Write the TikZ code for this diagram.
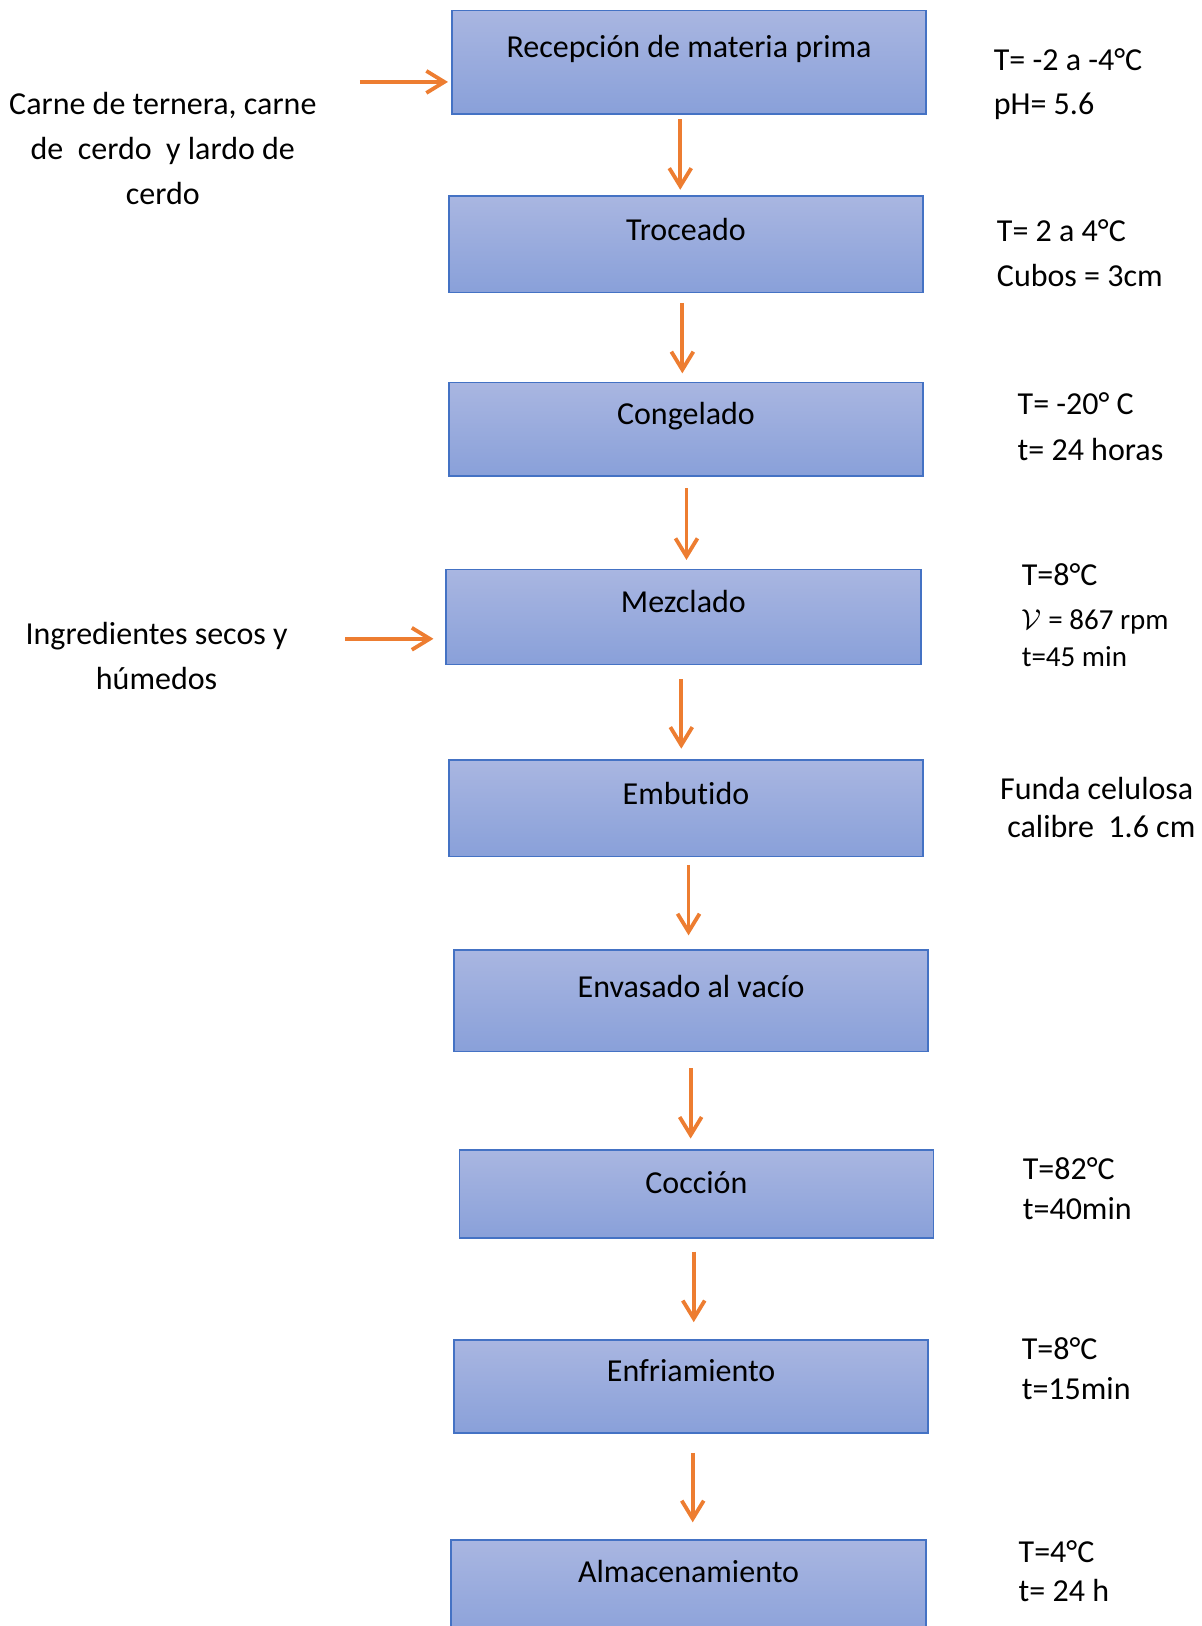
\documentclass[tikz,border=0pt]{standalone}
\usepackage{fontspec}
\setmainfont{Carlito}[Ligatures=NoCommon]
\usetikzlibrary{arrows.meta,calc}
\newlength\upx
\setlength\upx{0.5186pt}
\definecolor{boxtop}{RGB}{169,182,225}
\definecolor{boxbot}{RGB}{137,160,217}
\definecolor{boxline}{RGB}{68,114,196}
\definecolor{flowor}{RGB}{237,125,49}
\tikzset{
  stepbox/.style={draw=boxline, line width=0.75pt, top color=boxtop, bottom color=boxbot,
    anchor=north west, minimum width=457\upx, inner sep=0pt, outer sep=0pt},
  txt/.style={font=\fontsize{16}{19}\selectfont, inner sep=0pt, yshift=-6\upx},
  smalltxt/.style={font=\fontsize{14.5}{17}\selectfont, inner sep=0pt, yshift=-6\upx},
  flow/.style={draw=flowor, line width=1.9pt, -{Straight Barb[length=9pt,width=11pt]}}
}
\begin{document}
\begin{tikzpicture}[x=0.5186pt, y=-0.5186pt]
\useasboundingbox (0,0) rectangle (1159,1568);
\begin{scope}
\clip (0,0) rectangle (1159,1568);

% process steps
\node[stepbox, minimum height=100\upx] (b1) at (436,10) {};
\node[stepbox, minimum height=93\upx]  (b2) at (433,189) {};
\node[stepbox, minimum height=90\upx]  (b3) at (433,369) {};
\node[stepbox, minimum height=92\upx, minimum width=458\upx] (b4) at (430,549) {};
\node[stepbox, minimum height=93\upx]  (b5) at (433,733) {};
\node[stepbox, minimum height=98\upx]  (b6) at (438,916) {};
\node[stepbox, minimum height=85\upx]  (b7) at (443,1109) {};
\node[stepbox, minimum height=90\upx]  (b8) at (438,1292) {};
\node[stepbox, minimum height=100\upx, minimum width=458\upx] (b9) at (435,1485) {};

% step titles
\node[txt, anchor=mid] (t1) at ($(b1.north)+(0,35)$) {Recepción de materia prima};
\node[txt, anchor=mid] (t2) at ($(b2.north)+(0,32)$) {Troceado};
\node[txt, anchor=mid] (t3) at ($(b3.north)+(0,30)$) {Congelado};
\node[txt, anchor=mid] (t4) at ($(b4.north)+(0,31)$) {Mezclado};
\node[txt, anchor=mid] (t5) at ($(b5.north)+(0,32)$) {Embutido};
\node[txt, anchor=mid] (t6) at ($(b6.north)+(0,35)$) {Envasado al vacío};
\node[txt, anchor=mid] (t7) at ($(b7.north)+(0,31)$) {Cocción};
\node[txt, anchor=mid] (t8) at ($(b8.north)+(0,30)$) {Enfriamiento};
\node[txt, anchor=mid] (t9) at ($(b9.north)+(0,30)$) {Almacenamiento};

% flow between steps
\foreach \a/\b/\dx/\s/\e in {b1/b2/-8.5/5/6, b2/b3/-3.5/10/9, b3/b4/0.5/12/9,
    b4/b5/-2/14/11, b5/b6/2.5/8/14, b6/b7/-0.5/16/11, b7/b8/-2.5/13/17, b8/b9/1.5/19/17} {
  \coordinate (s-\a) at ([xshift=\dx\upx]\a.south);
  \draw[flow, shorten <=\s\upx, shorten >=\e\upx] (s-\a) -- (s-\a |- \b.north);
}

% inputs
\coordinate (in1) at (347,79);
\draw[flow, shorten >=4\upx] (in1) -- (in1 -| b1.west);
\node[txt, anchor=mid] (l1a) at (157,100) {Carne de ternera, carne};
\node[txt, anchor=mid] (l1b) at (157,143) {de\ \ cerdo\ \ y lardo de};
\node[txt, anchor=mid] (l1c) at (157,187) {cerdo};

\coordinate (in4) at (333,616);
\draw[flow, shorten >=12\upx] (in4) -- (in4 -| b4.west);
\node[txt, anchor=mid] (l4a) at (151,611) {Ingredientes secos y};
\node[txt, anchor=mid] (l4b) at (151,654) {húmedos};

% conditions
\node[txt, anchor=mid west] (n1a) at (958,57) {T= -2 a -4°C};
\node[txt, anchor=mid west] (n1b) at (958,100) {pH= 5.6};
\node[txt, anchor=mid west] (n2a) at (961,222) {T= 2 a 4°C};
\node[txt, anchor=mid west] (n2b) at (961,266) {Cubos = 3cm};
\node[txt, anchor=mid west] (n3a) at (981,389) {T= -20° C};
\node[txt, anchor=mid west] (n3b) at (981,433) {t= 24 horas};
\node[txt, anchor=mid west] (n4a) at (985,554) {T=8°C};
\node[smalltxt, anchor=mid west] (n4b) at (985,596) {$\mathcal{V}$ = 867 rpm};
\node[smalltxt, anchor=mid west] (n4c) at (985,632) {t=45 min};
\node[txt, anchor=mid west] (n5a) at (964,760) {Funda celulosa};
\node[txt, anchor=mid west] (n5b) at (971,797) {calibre\ \ 1.6 cm};
\node[txt, anchor=mid west] (n7a) at (986,1127) {T=82°C};
\node[txt, anchor=mid west] (n7b) at (986,1165) {t=40min};
\node[txt, anchor=mid west] (n8a) at (985,1300) {T=8°C};
\node[txt, anchor=mid west] (n8b) at (985,1339) {t=15min};
\node[txt, anchor=mid west] (n9a) at (982,1496) {T=4°C};
\node[txt, anchor=mid west] (n9b) at (982,1534) {t= 24 h};
\end{scope}
\end{tikzpicture}
\end{document}
